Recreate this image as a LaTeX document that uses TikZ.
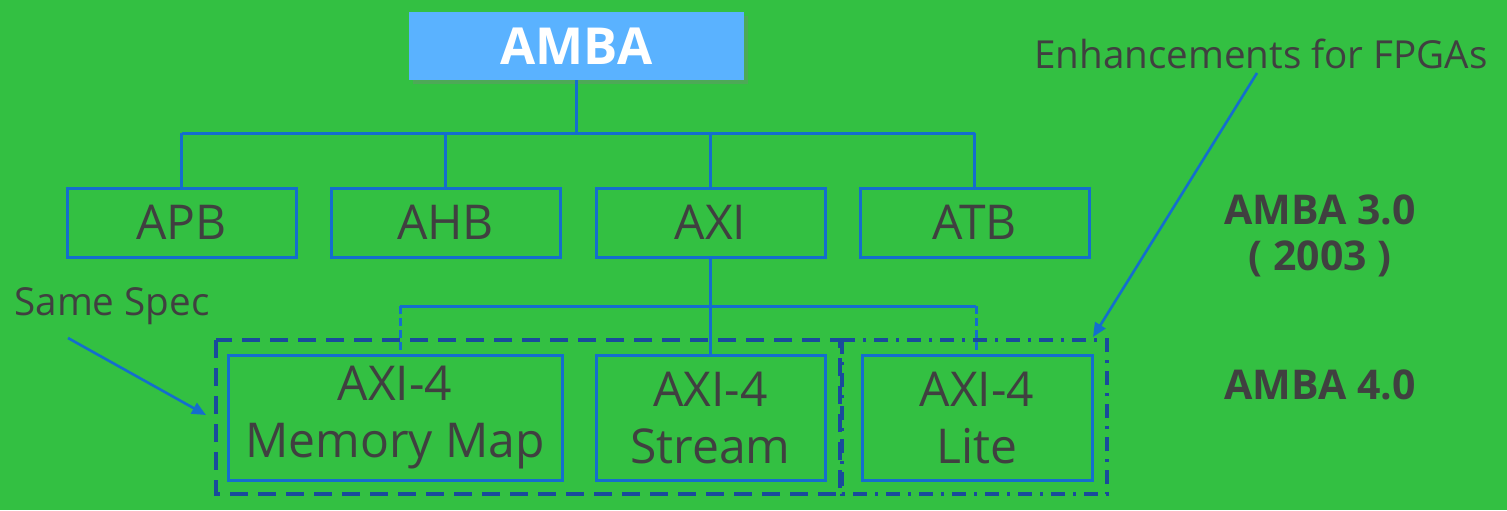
\documentclass[tikz,border=0pt]{standalone}
\usepackage{fontspec}
\setmainfont{Open Sans}
\usetikzlibrary{calc,arrows.meta,shadows}
\definecolor{bg}{RGB}{51,192,66}
\definecolor{lineblue}{RGB}{20,110,205}
\definecolor{darkblue}{RGB}{25,75,155}
\definecolor{titlefill}{RGB}{90,178,255}
\definecolor{txt}{RGB}{64,64,64}
\tikzset{
  box/.style={draw=lineblue, line width=1.5pt, text=txt, inner sep=0pt, align=center,
              font=\fontsize{24pt}{28.5pt}\selectfont},
  conn/.style={draw=lineblue, line width=1.5pt},
  dconn/.style={draw=lineblue, line width=1.5pt, dash pattern=on 4pt off 2pt},
  grpdash/.style={draw=darkblue, line width=2pt, dash pattern=on 9pt off 5pt},
  grpdashdot/.style={draw=darkblue, line width=2pt, dash pattern=on 7pt off 4pt on 1.5pt off 4pt},
  arr/.style={draw=lineblue, line width=1.3pt, -{Triangle[length=7pt,width=6pt]}},
  lbl/.style={text=txt, inner sep=0pt, font=\fontsize{19.3pt}{23pt}\selectfont},
  blbl/.style={text=txt, inner sep=0pt, align=center, font=\fontsize{20.5pt}{23pt}\selectfont\bfseries},
}
\begin{document}
\begin{tikzpicture}[x=0.5pt,y=-0.5pt]
\path[use as bounding box, fill=bg] (0,0) rectangle (1507,510);

% title
\node[fill=titlefill, minimum width=167.5pt, minimum height=34pt, inner sep=0pt,
      text=white, font=\fontsize{25.5pt}{30pt}\selectfont\bfseries,
      drop shadow={shadow xshift=2pt, shadow yshift=-2pt, opacity=0.35}] (amba) at (576.5,46) {AMBA};

% level 2
\node[box, minimum width=114.5pt, minimum height=34.5pt] (apb) at (181.5,222.5) {APB};
\node[box, minimum width=114.5pt, minimum height=34.5pt] (ahb) at (445.5,222.5) {AHB};
\node[box, minimum width=114.5pt, minimum height=34.5pt] (axi) at (710.5,222.5) {AXI};
\node[box, minimum width=114.5pt, minimum height=34.5pt] (atb) at (974.5,222.5) {ATB};

% level 3
\node[box, minimum width=167pt, minimum height=62.5pt] (mm) at (395,417.5) {AXI-4\\Memory Map};
\node[box, minimum width=114.5pt, minimum height=62.5pt] (st) at (710.5,417.5) {AXI-4\\Stream};
\node[box, minimum width=115pt, minimum height=62.5pt] (lite) at (977,417.5) {AXI-4\\Lite};

% bus level 1
\coordinate (b1) at (0,133);
\draw[conn] (amba.south) -- (amba.south |- b1);
\draw[conn] (apb.north |- b1) -- (atb.north |- b1);
\foreach \n in {apb,ahb,axi,atb} \draw[conn] (\n.north |- b1) -- (\n.north);

% bus level 2
\coordinate (b2) at (0,306);
\coordinate (mmtop) at ($(mm.north)+(5,0)$);
\coordinate (litetop) at ($(lite.north)+(-1,0)$);
\draw[conn] (axi.south) -- (st.north);
\draw[conn] (mmtop |- b2) -- (litetop |- b2);
\draw[dconn] (mmtop |- b2) -- (mmtop);
\draw[dconn] (litetop |- b2) -- (litetop);

% group boxes
\draw[grpdashdot] (842,340) rectangle (1107,494);
\draw[grpdash] (216,340) rectangle (840,494);

% labels
\node[lbl] (same) at (112,306) {Same Spec};
\node[lbl] (enh) at (1261,54) {Enhancements for FPGAs};
\node[blbl] (a3) at (1320,236) {AMBA 3.0\\( 2003 )};
\node[blbl] (a4) at (1320,385) {AMBA 4.0};

% arrows
\coordinate (s1) at (68,338);
\coordinate (s2) at (206,415);
\draw[arr] (s1) -- (s2);
\coordinate (e1) at (1257,73);
\coordinate (e2) at (1093,337);
\draw[arr] (e1) -- (e2);
\end{tikzpicture}
\end{document}
